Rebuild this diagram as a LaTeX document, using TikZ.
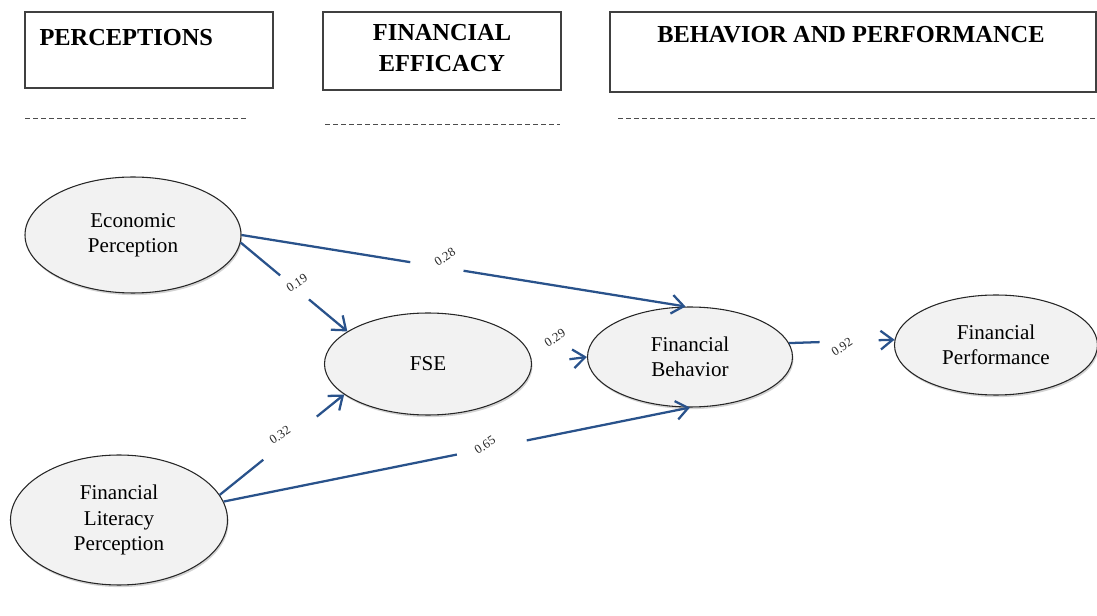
\documentclass[tikz,border=0pt]{standalone}
\usepackage{fontspec}
\setmainfont{Liberation Serif}
\usetikzlibrary{shapes.geometric,arrows.meta,shadows}

\definecolor{pathblue}{RGB}{41,82,139}
\definecolor{latentfill}{RGB}{242,242,242}

\tikzset{every picture/.style={line width=0.75pt}}
\tikzset{
  latent/.style={ellipse, draw=black!85, line width=0.8pt, fill=latentfill, inner sep=0pt,
    align=center, font=\rmfamily\fontsize{15.8}{19}\selectfont,
    drop shadow={shadow xshift=0.8pt, shadow yshift=-1.6pt, opacity=0.35}},
  link/.style={draw=pathblue, line width=1.7pt},
  tip/.style={-{Straight Barb[length=9pt,width=14pt]}},
  wt/.style={font=\rmfamily\fontsize{9.5}{10}\selectfont, rotate=33, inner sep=0pt, text=black!85},
  hdrbox/.style={draw=black!75, line width=0.9pt},
  hdr/.style={font=\rmfamily\bfseries\fontsize{18.3}{23}\selectfont, inner sep=0pt},
  sep/.style={draw=black!70, line width=0.6pt, dash pattern=on 4pt off 2pt},
}

\begin{document}
\begin{tikzpicture}[x=0.75pt,y=0.75pt,yscale=-1,xscale=1]
\useasboundingbox (0,0) rectangle (1097,616);

%Header boxes
\draw[hdrbox] (25,12) rectangle (273,88);
\draw[hdrbox] (323,12) rectangle (561,90);
\draw[hdrbox] (610,12) rectangle (1096,92);
% Text Node
\node[hdr, anchor=base west] (tperc) at (39,46) {PERCEPTIONS};
% Text Node
\node[hdr, anchor=base] (teff1) at (442,41) {FINANCIAL};
\node[hdr, anchor=base] (teff2) at (442,72) {EFFICACY};
% Text Node
\node[hdr, anchor=base] (tbehperf) at (851,43) {BEHAVIOR AND PERFORMANCE};

%Dashed separators
\draw[sep] (25,118) -- (246,118);
\draw[sep] (325,124) -- (560,124);
\draw[sep] (618,118) -- (1097,118);

%Constructs
\node[latent, minimum width=162pt, minimum height=87pt] (eco) at (133,235) {Economic\\Perception};
\node[latent, minimum width=162.75pt, minimum height=97.5pt] (lit) at (119,520) {Financial\\Literacy\\Perception};
\node[latent, minimum width=155.25pt, minimum height=76.5pt] (fse) at (428,364) {FSE};
\node[latent, minimum width=153.75pt, minimum height=75pt] (beh) at (690,357) {Financial\\Behavior};
\node[latent, minimum width=152.25pt, minimum height=75pt] (perf) at (996,345) {Financial\\Performance};

%Path eco -> beh
\path (eco.east) -- (beh.95) coordinate[pos=.38] (a1) coordinate[pos=.50] (b1);
\draw[link] (eco.east) -- (a1);
\draw[link,tip] (b1) -- (beh.95);
\node[wt] (w1) at (445,257) {0.28};

%Path eco -> fse
\path (eco.-4) -- (fse.158) coordinate[pos=.37] (a2) coordinate[pos=.64] (b2);
\draw[link] (eco.-4) -- (a2);
\draw[link,tip] (b2) -- (fse.158);
\node[wt] (w2) at (297,283) {0.19};

%Path lit -> fse
\path (lit.14) -- (fse.200) coordinate[pos=.35] (a3) coordinate[pos=.78] (b3);
\draw[link] (lit.14) -- (a3);
\draw[link,tip] (b3) -- (fse.200);
\node[wt] (w3) at (280,435) {0.32};

%Path lit -> beh
\path (lit.10) -- (beh.south) coordinate[pos=.50] (a4) coordinate[pos=.65] (b4);
\draw[link] (lit.10) -- (a4);
\draw[link,tip] (b4) -- (beh.south);
\node[wt] (w4) at (485,445) {0.65};

%Path fse -> beh
\path (fse.east) -- (beh.west) coordinate[pos=.68] (b5);
\draw[link,tip] (b5) -- (beh.west);
\node[wt] (w5) at (555,338) {0.29};

%Path beh -> perf
\path (beh.8) -- (perf.177) coordinate[pos=.29] (a6) coordinate[pos=.85] (b6);
\draw[link] (beh.8) -- (a6);
\draw[link,tip] (b6) -- (perf.177);
\node[wt] (w6) at (842,347) {0.92};

\end{tikzpicture}
\end{document}
